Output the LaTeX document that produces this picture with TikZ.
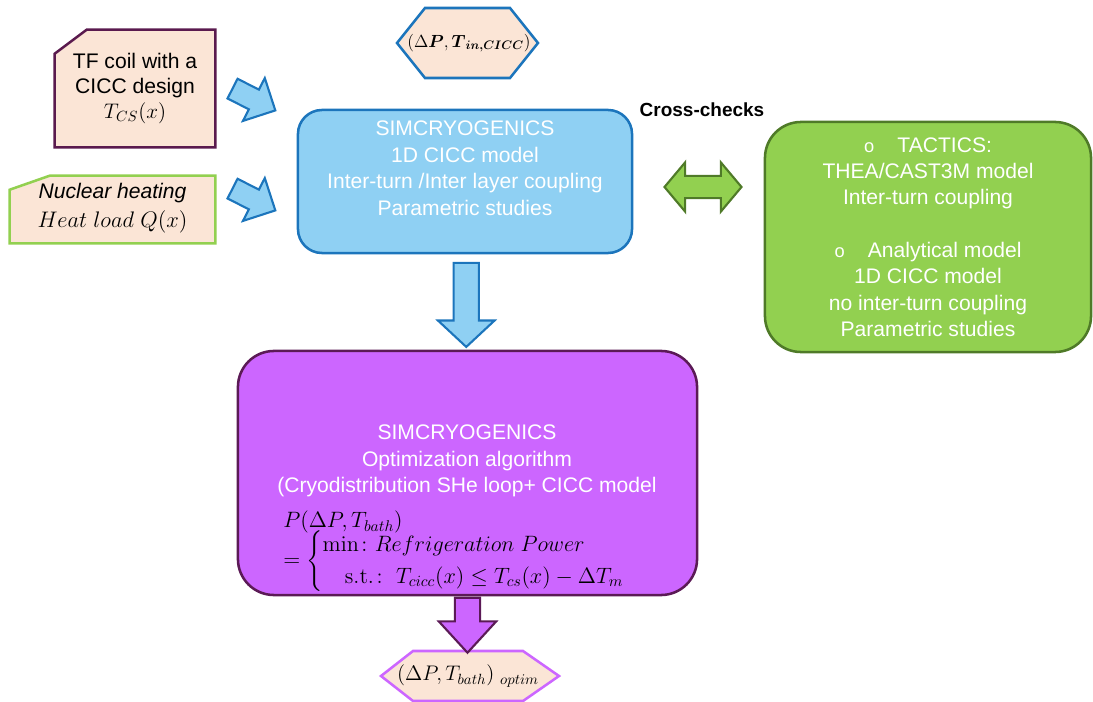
\RequirePackage{fix-cm}
\documentclass[tikz,border=0pt]{standalone}
\usepackage{amsmath}
\usepackage[no-math]{fontspec}
\setmainfont{Liberation Sans}
\usetikzlibrary{shapes.arrows,positioning,calc,backgrounds}
\definecolor{peach}{HTML}{FBE5D6}
\definecolor{tfline}{HTML}{5A1A4E}
\definecolor{leaf}{HTML}{92D050}
\definecolor{leafline}{HTML}{4F7A28}
\definecolor{sky}{HTML}{8FD0F3}
\definecolor{skyline}{HTML}{1C75BC}
\definecolor{violet}{HTML}{CC66FF}
\definecolor{violetline}{HTML}{5B1A56}
\begin{document}
\begin{tikzpicture}[x=0.025cm,y=-0.025cm,line join=miter,
                    font=\fontsize{15}{19}\selectfont,
  inbox/.style={rectangle,align=center,inner sep=0pt},
  peachfill/.style={fill=peach,line width=1.8pt},
  roundbox/.style={rectangle,line width=1.8pt,align=center,text=white},
  blockarrow/.style={single arrow,line width=1.5pt,inner xsep=0pt},
  bluearrow/.style={blockarrow,fill=sky,draw=skyline}]

  \useasboundingbox (0,0) rectangle (1093,702);

  \node[inbox,minimum width=4cm,minimum height=2.925cm,
        font=\fontsize{15}{17.8}\selectfont]          (tf)   at (135,88.5)
        {TF coil with a\\CICC design\\$T_{CS}(x)$};
  \node[inbox,minimum width=5.125cm,minimum height=1.675cm,
        font=\fontsize{15}{20.5}\selectfont]          (heat) at (112.5,208)
        {\textit{Nuclear heating}\\{\fontsize{16}{20.5}\selectfont$Heat\ load\ Q(x)$}};
  \node[inbox,font=\fontsize{12.5}{15}\selectfont]   (hexin) at (469,43)
        {$(\Delta\boldsymbol{P},\boldsymbol{T}_{\boldsymbol{in,CICC}})$};
  \node[inbox]                                        (hexout) at (468,676)
        {$(\Delta P,T_{bath})\ _{optim}$};

  \begin{scope}[on background layer]
    \filldraw[peachfill,draw=tfline] ($(tf.north west)+(32,0)$) -- (tf.north east) -- (tf.south east)
        -- (tf.south west) -- ($(tf.north west)+(0,24)$) -- cycle;
    \filldraw[peachfill,draw=leaf] ($(heat.north west)+(40,1.5)$) -- ($(heat.north east)+(0,1.5)$)
        -- ($(heat.south east)+(0,1.5)$) -- ($(heat.south west)+(0,1.5)$) -- ($(heat.north west)+(0,15.5)$) -- cycle;
    \filldraw[peachfill,draw=skyline] ($(hexin.center)+(-44,-35)$) -- ++(85,0) -- ++(28,35)
        -- ++(-28,35) -- ++(-85,0) -- ++(-28,-35) -- cycle;
    \filldraw[peachfill,draw=violet] ($(hexout.center)+(-55,-25)$) -- ++(110,0) -- ++(36,25)
        -- ++(-36,25) -- ++(-110,0) -- ++(-32,-25) -- cycle;
  \end{scope}

  \node[roundbox,fill=sky,draw=skyline,rounded corners=0.6cm,
        minimum width=8.35cm,minimum height=3.575cm]  (sim)  at (465,181.5)
        {SIMCRYOGENICS\\1D CICC model\\Inter-turn /Inter layer coupling\\Parametric studies\\\mbox{}};

  \node[font=\fontsize{13.5}{16}\selectfont\bfseries] (xc) at (702,110) {Cross-checks};

  \node[roundbox,fill=leaf,draw=leafline,rounded corners=0.9cm,
        minimum width=8.15cm,minimum height=5.75cm,
        font=\fontsize{15}{18.7}\selectfont]          (tactics) at (928,237)
        {{\fontsize{13}{15}\selectfont o}\hspace{1.1em}TACTICS:\\THEA/CAST3M model\\Inter-turn coupling\\\mbox{}\\
         {\fontsize{13}{15}\selectfont o}\hspace{1.1em}Analytical model\\1D CICC model\\no inter-turn coupling\\Parametric studies};

  \node[roundbox,fill=violet,draw=violetline,rounded corners=0.9cm,
        minimum width=11.475cm,minimum height=6.1cm] (opt) at (467.5,473) {};
  \node[align=center,text=white]                      (opttitle) at (467,461)
        {SIMCRYOGENICS\\Optimization algorithm\\(Cryodistribution SHe loop+ CICC model};
  \node[anchor=west,inner sep=0pt,font=\fontsize{15.8}{19}\selectfont] (optmath) at (283,551)
        {$\begin{array}{@{}l@{}}
           P(\Delta P,T_{bath})\\[-5pt]
           =\begin{cases}\min\colon Refrigeration\ Power\\
                         \quad\mathrm{s.t.}\colon\ T_{cicc}(x)\le T_{cs}(x)-\Delta T_m\end{cases}
         \end{array}$};

  \node[bluearrow,inner ysep=0.25cm,single arrow head extend=0.325cm,
        minimum height=1.2cm,rotate=-27]              (tfarrow)   at (249,97)  {};
  \node[bluearrow,inner ysep=0.25cm,single arrow head extend=0.325cm,
        minimum height=1.2cm,rotate=-27]              (heatarrow) at (249,197) {};
  \node[bluearrow,inner ysep=0.29cm,single arrow head extend=0.39cm,
        single arrow tip angle=94,minimum height=2.1cm,rotate=-90]
                                                      (simarrow)  at ($(sim.south)!0.5!(opt.north)+(0,-3)$) {};
  \node[blockarrow,fill=violet,draw=violetline,inner ysep=0.29cm,single arrow head extend=0.4cm,
        single arrow tip angle=85,minimum height=1.375cm,rotate=-90]
                                                      (optarrow)  at ($(opt.south)+(0,22)$) {};
  \node[double arrow,fill=leaf,draw=leafline,line width=1.5pt,inner xsep=0pt,inner ysep=0.25cm,
        double arrow head extend=0.34cm,double arrow tip angle=100,minimum height=1.925cm]
                                                      (xarrow)    at (703,187) {};

\end{tikzpicture}
\end{document}
